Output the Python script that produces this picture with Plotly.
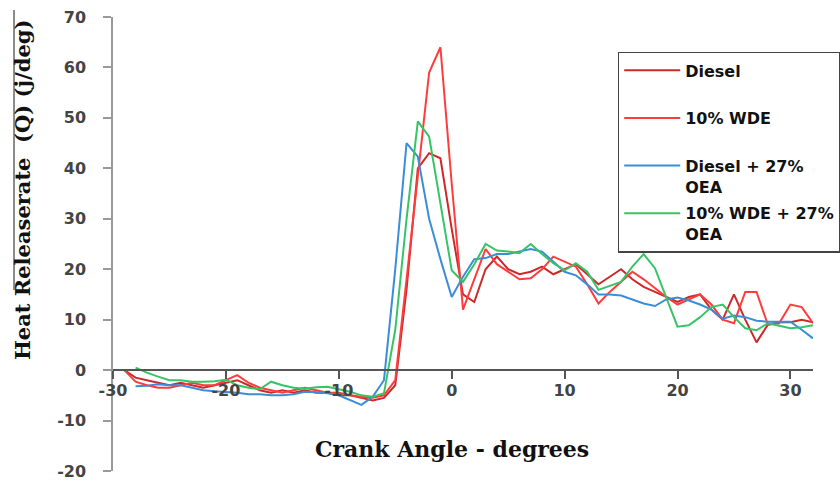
import plotly.graph_objects as go

# Crank angle (degrees) for each series
angle_diesel = list(range(-29, 33))
angle_wde = list(range(-29, 33))
angle_diesel_oea = list(range(-28, 33))
angle_wde_oea = list(range(-28, 33))

# Heat release rate (J/deg)
hrr_diesel = [
    0, -1.5, -2, -2.5, -3, -2.5, -3, -3.5, -3, -2.5,
    -2, -3, -4, -4.5, -4, -4.5, -4, -4.5, -4.5, -5,
    -5, -5.5, -6, -5.5, -3, 16, 40, 43, 42, 28,
    15, 13.5, 20, 22.5, 20, 19, 19.5, 20.5, 19, 20,
    21, 19, 17, 18.5, 20, 18, 16.5, 15.5, 14.5, 13.5,
    14.5, 15, 12, 10, 15, 10, 5.5, 9, 9.5, 9.5,
    10, 9.5,
]
hrr_wde = [
    0, -2.3, -3, -3.5, -3.5, -3, -2.5, -3, -3, -2,
    -1, -2.5, -3.5, -4, -4.5, -4, -3.5, -4, -4.5, -4.5,
    -5, -5.3, -5.5, -5, -2, 18, 38, 59, 64, 37,
    12, 18, 24, 21, 19.5, 18, 18.2, 20, 22.5, 21.5,
    20.5, 17, 13.2, 15.5, 17.5, 19.5, 18, 16.2, 14.5, 13,
    14, 15, 13, 10, 9.3, 15.5, 15.5, 9, 9.3, 13,
    12.5, 9.3,
]
hrr_diesel_oea = [
    -3.2, -3.1, -2.8, -3, -3, -3.5, -4, -4.2, -4.3, -4.5,
    -4.8, -4.8, -5, -5, -4.8, -4.3, -4.4, -4.6, -5, -6,
    -6.9, -5.3, -2, 20, 45, 42.3, 30, 22, 14.5, 18.5,
    22, 22.2, 23, 23, 23.5, 24, 23.5, 21.5, 19.5, 18.8,
    17, 15, 15, 14.8, 14, 13.2, 12.7, 14, 14.4, 13.8,
    13, 12, 10.2, 10.8, 10.5, 9.8, 9.6, 9.6, 9.6, 8,
    6.3,
]
hrr_wde_oea = [
    0.5, -0.5, -1.3, -2, -2, -2.3, -2.3, -2.2, -1.9, -3,
    -3.5, -3.8, -2.3, -3, -3.5, -3.7, -3.4, -3.3, -3.8, -4.3,
    -5, -5.3, -4.6, 8, 30, 49.3, 46.3, 33, 19.8, 17.5,
    21, 25, 23.7, 23.5, 23.2, 25, 23, 21.2, 19.8, 21.2,
    19.5, 15.9, 16.7, 17.5, 20.5, 23, 20.2, 14.5, 8.6, 8.9,
    10.5, 12.5, 13, 10.5, 8.3, 7.9, 9.3, 8.8, 8.3, 8.5,
    8.9,
]

series = [
    ("Diesel<br> ", angle_diesel, hrr_diesel, "#cc2a2a"),
    ("10% WDE<br> ", angle_wde, hrr_wde, "#ff3c3c"),
    ("Diesel + 27%<br>OEA", angle_diesel_oea, hrr_diesel_oea, "#3a8ed8"),
    ("10% WDE + 27%<br>OEA", angle_wde_oea, hrr_wde_oea, "#37c466"),
]

x_ticks = [-30, -20, -10, 0, 10, 20, 30]
x_tick_labels = ["-30", "-20", "-10", "0", "10", "20", "30"]
y_ticks = [-20, -10, 0, 10, 20, 30, 40, 50, 60, 70]
y_tick_labels = ["-20", "-10", "0", "10", "20", "30", "40", "50", "60", "70"]

fig = go.Figure()
for i, (name, xs, ys, color) in enumerate(series):
    fig.add_trace(go.Scatter(
        x=xs, y=ys, mode="lines", name=name,
        legendgroup=f"g{i}",
        line=dict(color=color, width=2),
    ))

tick_font = dict(family="DejaVu Sans", size=16, color="#444444", weight="bold")

fig.update_layout(
    width=840, height=483,
    margin=dict(l=113, r=27, t=17, b=12, autoexpand=False),
    paper_bgcolor="white", plot_bgcolor="white",
    showlegend=True,
    legend=dict(
        x=0.721, y=0.923, xanchor="left", yanchor="top",
        bgcolor="white", bordercolor="#444444", borderwidth=1.5,
        font=dict(family="DejaVu Sans", size=16, color="#111111", weight="bold"),
        traceorder="grouped", tracegroupgap=3, valign="top",
        itemwidth=56,
    ),
    xaxis=dict(
        range=[-30, 32], tickvals=x_ticks, ticktext=x_tick_labels,
        showgrid=False, zeroline=False, automargin=False,
        showline=True, linecolor="#555555", linewidth=2,
        ticks="outside", ticklen=8, tickcolor="#555555", tickwidth=1.5,
        ticklabelstandoff=-2,
        anchor="free", position=20 / 90,
        tickfont=tick_font,
    ),
    yaxis=dict(
        range=[-20, 70], tickvals=y_ticks, ticktext=y_tick_labels,
        showgrid=False, zeroline=False, automargin=False,
        showline=True, linecolor="#999999", linewidth=1.5,
        ticks="outside", ticklen=8, tickcolor="#999999", tickwidth=1.5,
        ticklabelstandoff=14,
        tickfont=tick_font,
    ),
    annotations=[
        dict(
            text="Crank Angle - degrees", xref="paper", yref="paper",
            x=0.4843, y=0.0485, xanchor="center", yanchor="middle",
            showarrow=False,
            font=dict(family="DejaVu Serif", size=22, color="#111111", weight="bold"),
        ),
        dict(
            text="Heat Releaserate  (Q) (j/deg)", xref="paper", yref="paper",
            x=-0.1285, y=0.619, xanchor="center", yanchor="middle",
            textangle=-90, showarrow=False,
            font=dict(family="DejaVu Serif", size=21, color="#111111", weight="bold"),
        ),
    ],
    shapes=[
        dict(type="line", xref="paper", yref="paper",
             x0=-0.1414, x1=-0.1414, y0=0.3987, y1=1.0154,
             line=dict(color="#666666", width=1.5)),
    ],
)

fig.write_html("out.html")
